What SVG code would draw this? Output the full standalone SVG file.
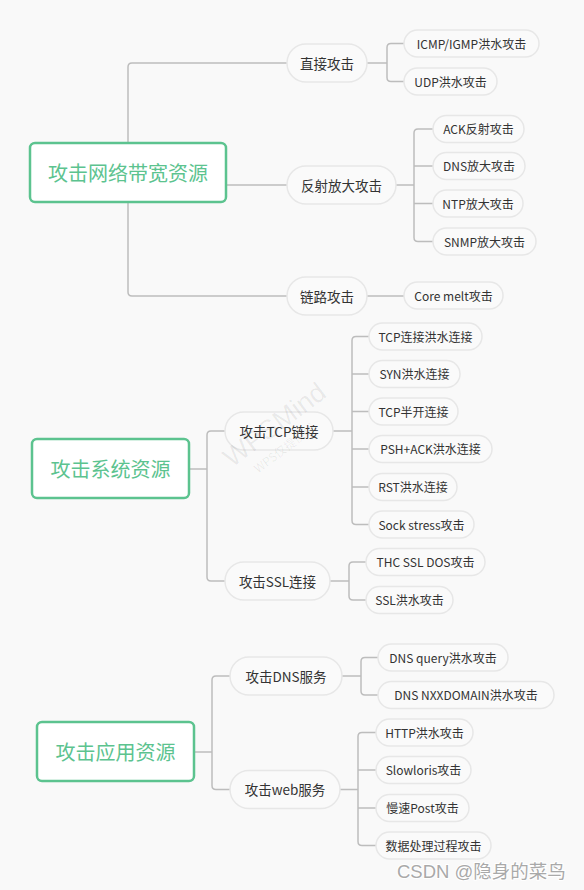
<svg xmlns="http://www.w3.org/2000/svg" width="584" height="890" viewBox="0 0 584 890">
<style>
.bg{fill:#f9f9f9}
.root rect{fill:#ffffff;stroke:#5cc38f;stroke-width:2.5}
.root text{fill:#5cc38f;font-size:20px;font-family:"Noto Sans CJK SC","Microsoft YaHei",sans-serif;text-anchor:middle;dominant-baseline:central}
.l2 rect{fill:#fafafa;stroke:#e7e7e7;stroke-width:1.5}
.l2 text{fill:#333333;font-size:13.5px;font-family:"Noto Sans CJK SC",sans-serif;text-anchor:middle;dominant-baseline:central}
.l3 rect{fill:#fafafa;stroke:#e7e7e7;stroke-width:1.5}
.l3 text{fill:#333333;font-size:12px;font-family:"Noto Sans CJK SC",sans-serif;text-anchor:middle;dominant-baseline:central}
.conn path{fill:none;stroke:#bdbdbd;stroke-width:1.5}
</style>
<rect class="bg" x="0" y="0" width="584" height="890"/>

<g id="connectors" class="conn">
<path d="M128,143 V67 Q128,63 132,63 H287"/>
<path d="M128,202 V292 Q128,296 132,296 H287"/>
<path d="M226,185 H287"/>
<path d="M367,63 H387 M404,43.5 H391 Q387,43.5 387,47.5 V77.5 Q387,81.5 391,81.5 H404"/>
<path d="M396,185 H414 M433,129 H418 Q414,129 414,133 V237.5 Q414,241.5 418,241.5 H433 M414,166 H433 M414,203.5 H433"/>
<path d="M367,296 H404"/>
<path d="M189,469 H207 M225,431 H211 Q207,431 207,435 V577 Q207,581 211,581 H225"/>
<path d="M333,431 H352 M369,336.5 H356 Q352,336.5 352,340.5 V520.5 Q352,524.5 356,524.5 H369 M352,374 H369 M352,411.5 H369 M352,449 H369 M352,487 H369"/>
<path d="M330,581 H349 M366,562 H353 Q349,562 349,566 V596 Q349,600 353,600 H366"/>
<path d="M194,752 H212 M230,676 H216 Q212,676 212,680 V785.5 Q212,789.5 216,789.5 H230"/>
<path d="M342,676 H361 M378,657.5 H365 Q361,657.5 361,661.5 V691 Q361,695 365,695 H378"/>
<path d="M340,789.5 H358 M376,732.5 H362 Q358,732.5 358,736.5 V841.5 Q358,845.5 362,845.5 H376 M358,770 H376 M358,808 H376"/>
</g>

<g id="root1" class="root"><rect x="30" y="143" width="196" height="59" rx="5"/><text x="128" y="172.5">攻击网络带宽资源</text></g>
<g id="root2" class="root"><rect x="32" y="439" width="157" height="59" rx="5"/><text x="110.5" y="468.5">攻击系统资源</text></g>
<g id="root3" class="root"><rect x="37" y="722" width="157" height="59" rx="5"/><text x="115.5" y="751.5">攻击应用资源</text></g>

<g id="n-direct" class="l2"><rect x="287" y="44" width="80" height="38" rx="19"/><text x="327" y="62.5">直接攻击</text></g>
<g id="n-reflect" class="l2"><rect x="287" y="166" width="109" height="38" rx="19"/><text x="341.5" y="184.5">反射放大攻击</text></g>
<g id="n-link" class="l2"><rect x="287" y="277" width="80" height="38" rx="19"/><text x="327" y="295.5">链路攻击</text></g>

<g id="n-icmp" class="l3"><rect x="404" y="30" width="135" height="27" rx="13.5"/><text x="471.5" y="43">ICMP/IGMP洪水攻击</text></g>
<g id="n-udp" class="l3"><rect x="404" y="68" width="93" height="27" rx="13.5"/><text x="450.5" y="81">UDP洪水攻击</text></g>
<g id="n-ack" class="l3"><rect x="433" y="115.5" width="91" height="27" rx="13.5"/><text x="478.5" y="128.5">ACK反射攻击</text></g>
<g id="n-dns" class="l3"><rect x="433" y="152.5" width="92" height="27" rx="13.5"/><text x="479" y="165.5">DNS放大攻击</text></g>
<g id="n-ntp" class="l3"><rect x="433" y="190" width="90" height="27" rx="13.5"/><text x="478" y="203">NTP放大攻击</text></g>
<g id="n-snmp" class="l3"><rect x="433" y="228" width="103" height="27" rx="13.5"/><text x="484.5" y="241">SNMP放大攻击</text></g>
<g id="n-core" class="l3"><rect x="404" y="282" width="99" height="27" rx="13.5"/><text x="453.5" y="295">Core melt攻击</text></g>

<g id="n-tcp" class="l2"><rect x="225" y="412" width="108" height="38" rx="19"/><text x="279" y="430.5">攻击TCP链接</text></g>
<g id="n-ssl" class="l2"><rect x="225" y="562" width="105" height="38" rx="19"/><text x="277.5" y="580.5">攻击SSL连接</text></g>

<g id="n-tcpflood" class="l3"><rect x="369" y="323" width="113" height="27" rx="13.5"/><text x="425.5" y="336">TCP连接洪水连接</text></g>
<g id="n-syn" class="l3"><rect x="369" y="360.5" width="91" height="27" rx="13.5"/><text x="414.5" y="373.5">SYN洪水连接</text></g>
<g id="n-half" class="l3"><rect x="369" y="398" width="89" height="27" rx="13.5"/><text x="413.5" y="411">TCP半开连接</text></g>
<g id="n-psh" class="l3"><rect x="369" y="435.5" width="123" height="27" rx="13.5"/><text x="430.5" y="448.5">PSH+ACK洪水连接</text></g>
<g id="n-rst" class="l3"><rect x="369" y="473.5" width="88" height="27" rx="13.5"/><text x="413" y="486.5">RST洪水连接</text></g>
<g id="n-sock" class="l3"><rect x="369" y="511" width="105" height="27" rx="13.5"/><text x="421.5" y="524">Sock stress攻击</text></g>
<g id="n-thc" class="l3"><rect x="366" y="548.5" width="119" height="27" rx="13.5"/><text x="425.5" y="561.5">THC SSL DOS攻击</text></g>
<g id="n-sslflood" class="l3"><rect x="366" y="586.5" width="87" height="27" rx="13.5"/><text x="409.5" y="599.5">SSL洪水攻击</text></g>

<g id="n-dnssvc" class="l2"><rect x="230" y="657" width="112" height="38" rx="19"/><text x="286" y="675.5">攻击DNS服务</text></g>
<g id="n-websvc" class="l2"><rect x="230" y="770.5" width="110" height="38" rx="19"/><text x="285" y="789">攻击web服务</text></g>

<g id="n-query" class="l3"><rect x="378" y="644" width="130" height="27" rx="13.5"/><text x="443" y="657">DNS query洪水攻击</text></g>
<g id="n-nxx" class="l3"><rect x="378" y="681.5" width="176" height="27" rx="13.5"/><text x="466" y="694.5">DNS NXXDOMAIN洪水攻击</text></g>
<g id="n-http" class="l3"><rect x="376" y="719" width="97" height="27" rx="13.5"/><text x="424.5" y="732">HTTP洪水攻击</text></g>
<g id="n-slow" class="l3"><rect x="376" y="756.5" width="95" height="27" rx="13.5"/><text x="423.5" y="769.5">Slowloris攻击</text></g>
<g id="n-post" class="l3"><rect x="376" y="794.5" width="93" height="27" rx="13.5"/><text x="422.5" y="807.5">慢速Post攻击</text></g>
<g id="n-proc" class="l3"><rect x="376" y="832" width="115" height="27" rx="13.5"/><text x="433.5" y="845">数据处理过程攻击</text></g>

<g id="wps-watermark" transform="translate(280,432) rotate(-37)" font-family="Liberation Sans,sans-serif" fill="#000000" fill-opacity="0.07" text-anchor="middle">
<text x="0" y="0" font-size="27">WPSMind</text>
<text x="-6" y="20" font-size="12" font-family="Noto Sans CJK SC,sans-serif">WPS仅提供代</text>
</g>
<text id="csdn" x="397" y="878" font-family="Liberation Sans,Noto Sans CJK SC,sans-serif" font-size="18.5" fill="#a9a9a9" stroke="#ffffff" stroke-width="2" paint-order="stroke">CSDN @隐身的菜鸟</text>
</svg>
